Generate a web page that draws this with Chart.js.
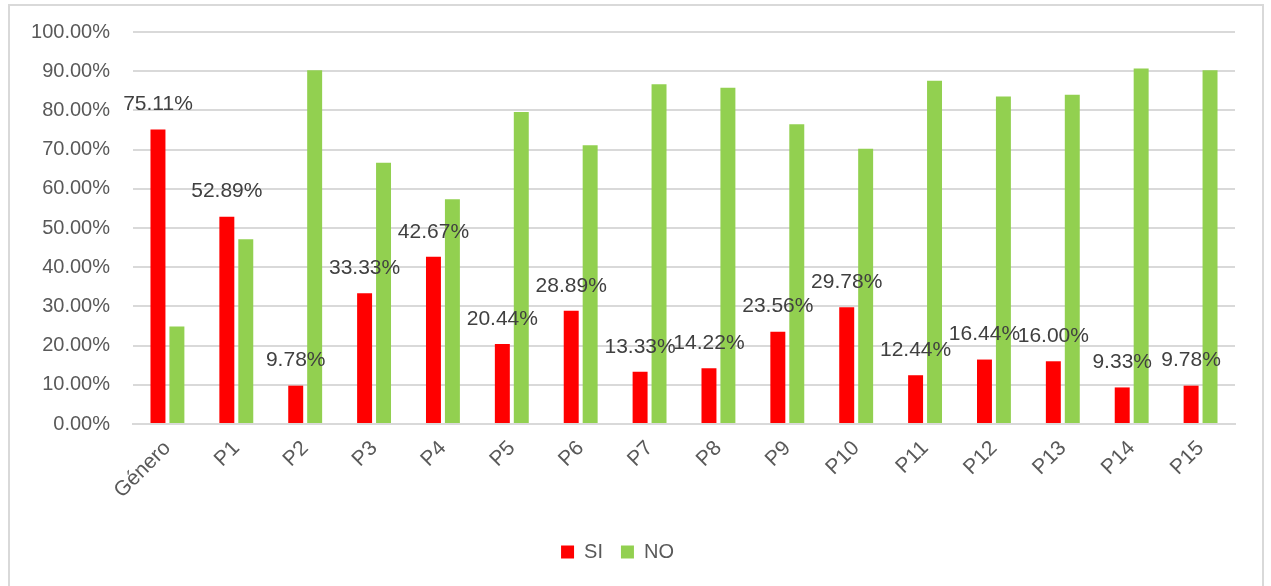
<!DOCTYPE html>
<html>
<head>
<meta charset="utf-8">
<script src="https://cdn.jsdelivr.net/npm/chart.js@4"></script>
<style>
    html, body { margin: 0; padding: 0; background: #fff; overflow: hidden; }
    #wrap { position: absolute; left: 0; top: 0; width: 1271px; height: 586px; }
</style>
</head>
<body>
<div id="wrap"><canvas id="chart"></canvas></div>
<script>
// Categories and series (percent)
const categories = ['Género', 'P1', 'P2', 'P3', 'P4', 'P5', 'P6', 'P7', 'P8', 'P9', 'P10', 'P11', 'P12', 'P13', 'P14', 'P15'];
const siValues = [75.11, 52.89, 9.78, 33.33, 42.67, 20.44, 28.89, 13.33, 14.22, 23.56, 29.78, 12.44, 16.44, 16.00, 9.33, 9.78];
const noValues = [24.89, 47.11, 90.22, 66.67, 57.33, 79.56, 71.11, 86.67, 85.78, 76.44, 70.22, 87.56, 83.56, 84.00, 90.67, 90.22];
const yTicks = [0, 10, 20, 30, 40, 50, 60, 70, 80, 90, 100];

Chart.defaults.font.family = "'Liberation Sans', Arial, sans-serif";
Chart.defaults.color = '#595959';

// outer frame like the Excel chart area
const framePlugin = {
    id: 'frame',
    beforeDraw(chart) {
        const ctx = chart.ctx;
        ctx.save();
        ctx.fillStyle = '#ffffff';
        ctx.fillRect(0, 0, chart.width, chart.height);
        ctx.strokeStyle = '#d9d9d9';
        ctx.lineWidth = 2;
        ctx.strokeRect(9, 5, 1254, 640);
        ctx.restore();
    }
};

// value labels above the SI bars only
const siLabels = {
    id: 'siLabels',
    afterDatasetsDraw(chart) {
        const ctx = chart.ctx;
        const meta = chart.getDatasetMeta(0);
        ctx.save();
        ctx.font = "21px 'Liberation Sans', Arial, sans-serif";
        ctx.fillStyle = '#404040';
        ctx.textAlign = 'center';
        ctx.textBaseline = 'middle';
        meta.data.forEach((bar, i) => {
            ctx.fillText(siValues[i].toFixed(2) + '%', bar.x, bar.y - 25);
        });
        ctx.restore();
    }
};

new Chart(document.getElementById('chart'), {
    type: 'bar',
    data: {
        labels: categories,
        datasets: [
            { label: 'SI', data: siValues, backgroundColor: '#ff0000', categoryPercentage: 0.55, barPercentage: 0.79 },
            { label: 'NO', data: noValues, backgroundColor: '#92d050', categoryPercentage: 0.55, barPercentage: 0.79 }
        ]
    },
    options: {
        responsive: true,
        maintainAspectRatio: false,
        animation: false,
        layout: { padding: { left: 0, right: 36, top: 32, bottom: 14 } },
        plugins: {
            tooltip: { enabled: false },
            legend: {
                position: 'bottom',
                labels: {
                    boxWidth: 13,
                    boxHeight: 13,
                    padding: 18,
                    color: '#595959',
                    font: { size: 20 }
                }
            }
        },
        scales: {
            x: {
                grid: { display: false },
                border: { display: true, color: '#d9d9d9', width: 2 },
                ticks: {
                    color: '#595959',
                    font: { size: 21 },
                    minRotation: 45,
                    maxRotation: 45,
                    padding: 4
                },
                afterFit(scale) { scale.height = 100; }
            },
            y: {
                min: 0,
                max: 100,
                afterBuildTicks(scale) { scale.ticks = yTicks.map(v => ({ value: v })); },
                grid: { color: '#d9d9d9', lineWidth: 2, drawTicks: false },
                border: { display: false },
                ticks: {
                    color: '#595959',
                    font: { size: 20 },
                    padding: 23,
                    callback: v => v.toFixed(2) + '%'
                },
                afterFit(scale) {
                    scale.width = 133;
                    scale.paddingTop = 0;
                    scale.paddingBottom = 0;
                }
            }
        }
    },
    plugins: [framePlugin, siLabels]
});
</script>
</body>
</html>
